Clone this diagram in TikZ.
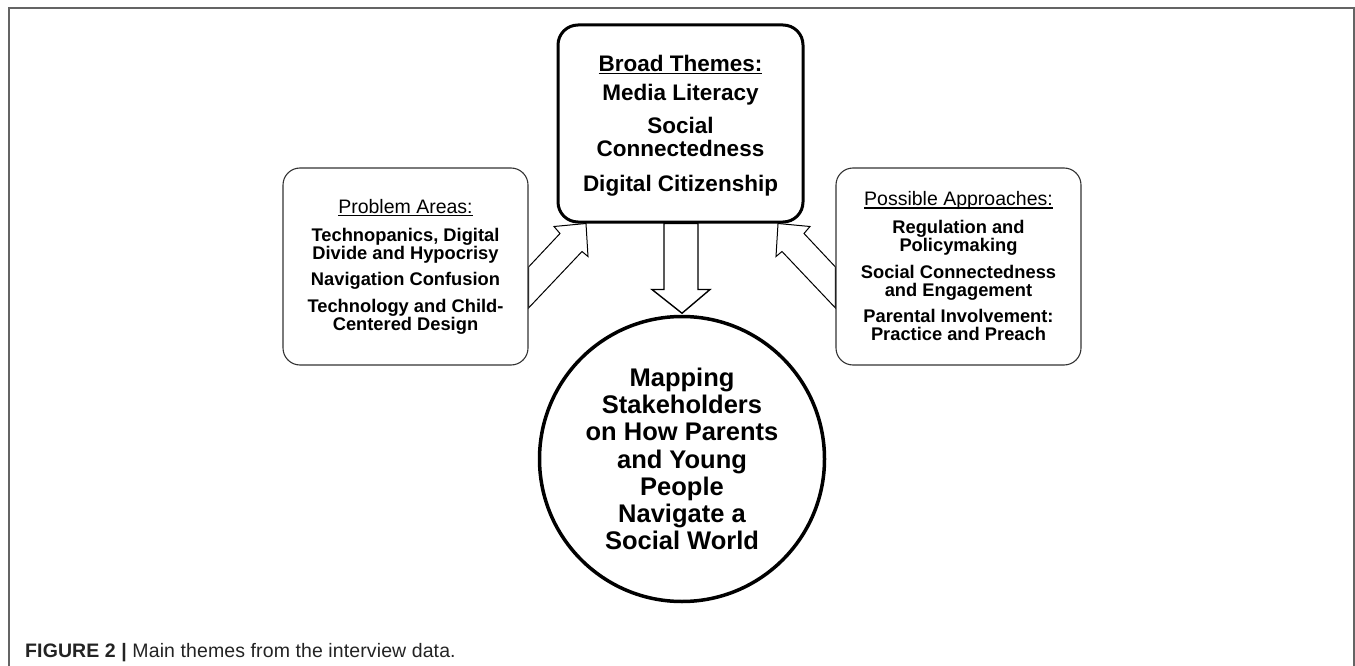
\documentclass[tikz,border=0pt]{standalone}
\usepackage{fontspec}
\setmainfont{Liberation Sans}
\newfontfamily\capfont[LetterSpace=0.6]{Liberation Sans}
\usetikzlibrary{calc,backgrounds}
\newsavebox\ulbox
\newcommand\myul[2][-2.6pt]{\sbox\ulbox{#2}\rlap{\rule[#1]{\wd\ulbox}{1.2pt}}\usebox\ulbox}
\newcommand\itemfont{\fontsize{18.3}{18}\selectfont\bfseries\lineskiplimit=-20pt\lineskip=0pt}
\newcommand\headfont{\fontsize{19.5}{18}\selectfont\mdseries}
\newcommand\themefont{\fontsize{22.5}{23}\selectfont\bfseries\lineskiplimit=-20pt\lineskip=0pt}
\newcommand\hubfont{\fontsize{25.5}{27.2}\selectfont\bfseries\lineskiplimit=-20pt\lineskip=0pt}
\definecolor{framegray}{RGB}{100,100,100}
\definecolor{captiongray}{RGB}{35,35,35}
\begin{document}
\begin{tikzpicture}[x=1pt,y=-1pt,
  themebox/.style={draw=black, line width=3pt, rounded corners=20pt, fill=white,
    minimum width=245pt, minimum height=197pt, inner sep=0pt},
  sidebox/.style={draw=black!80, line width=1.1pt, rounded corners=17pt, fill=white,
    minimum width=245pt, minimum height=197pt, inner sep=0pt, align=center, font=\itemfont},
  hubcircle/.style={circle, draw=black, line width=3.5pt, fill=white,
    minimum size=285pt, inner sep=0pt, align=center, font=\hubfont},
  themetext/.style={inner sep=0pt, align=center, font=\themefont},
  blockarrow/.style={draw=black, fill=white, line width=1pt, line join=miter},
  downarrow/.style={draw=black, fill=white, line width=1.4pt, line join=miter},
  framerule/.style={draw=framegray, line width=1.5pt},
  captiontext/.style={inner sep=0pt, anchor=base west, text=captiongray,
    font=\capfont\fontsize{19.5}{22}\selectfont}
]
\useasboundingbox (0,0) rectangle (1355,666);

% frame
\draw[framerule] (9,666) -- (9,8) -- (1354,8) -- (1354,666);

% nodes
\node[themebox] (themes) at (680.5,123.5) {};
\node[themetext, anchor=north] (themestext) at ($(themes.north)+(0,31.7)$)
  {\myul[-2.4pt]{Broad Themes:}\\[6pt]
   Media Literacy\\[10pt]
   Social\\
   Connectedness\\[12pt]
   Digital Citizenship};

\node[sidebox] (problems) at (405.5,266.5)
  {\myul{\headfont Problem Areas:}\\[10pt]
   Technopanics, Digital\\
   Divide and Hypocrisy\\[8.5pt]
   Navigation Confusion\\[8.5pt]
   Technology and Child-\\
   Centered Design};

\node[sidebox] (approaches) at (958.5,266.5)
  {\myul{\headfont Possible Approaches:}\\[10pt]
   Regulation and\\
   Policymaking\\[8.5pt]
   Social Connectedness\\
   and Engagement\\[8.5pt]
   Parental Involvement:\\
   Practice and Preach};

\node[hubcircle] (mapping) at (682,459)
  {Mapping\\
   Stakeholders\\
   on How Parents\\
   and Young\\
   People\\
   Navigate a\\
   Social World};

\node[captiontext] (caption) at (25,657)
  {\textbf{FIGURE 2 |} Main themes from the interview data.};

% block arrows
\begin{scope}[on background layer]
  % left: problems -> themes
  \coordinate (la1) at ($(problems.east)+(0,41.5)$);
  \coordinate (la2) at ($(problems.east)+(0,0.5)$);
  \coordinate (ltip) at ($(themes.south)+(-94.5,0)$);
  \draw[blockarrow] (la1) -- ($(ltip)+(-4,28)$) -- ($(ltip)+(2,33)$) -- (ltip)
     -- ($(ltip)+(-32,3)$) -- ($(ltip)+(-26,10)$) -- (la2) -- cycle;
  % right: approaches -> themes
  \coordinate (ra1) at ($(approaches.west)+(0,41.5)$);
  \coordinate (ra2) at ($(approaches.west)+(0,0.5)$);
  \coordinate (rtip) at ($(themes.south)+(97.5,0)$);
  \draw[blockarrow] (ra1) -- ($(rtip)+(4,28)$) -- ($(rtip)+(-2,33)$) -- (rtip)
     -- ($(rtip)+(32,3)$) -- ($(rtip)+(26,10)$) -- (ra2) -- cycle;
  % down: themes -> mapping
  \draw[downarrow] ($(themes.south)+(-16.5,0)$) -- ($(themes.south)+(-16.5,66)$)
     -- ($(themes.south)+(-28.5,66)$) -- ($(mapping.north)+(0,-1.5)$)
     -- ($(themes.south)+(29.5,66)$) -- ($(themes.south)+(17.5,66)$)
     -- ($(themes.south)+(17.5,0)$) -- cycle;
\end{scope}
\end{tikzpicture}
\end{document}
